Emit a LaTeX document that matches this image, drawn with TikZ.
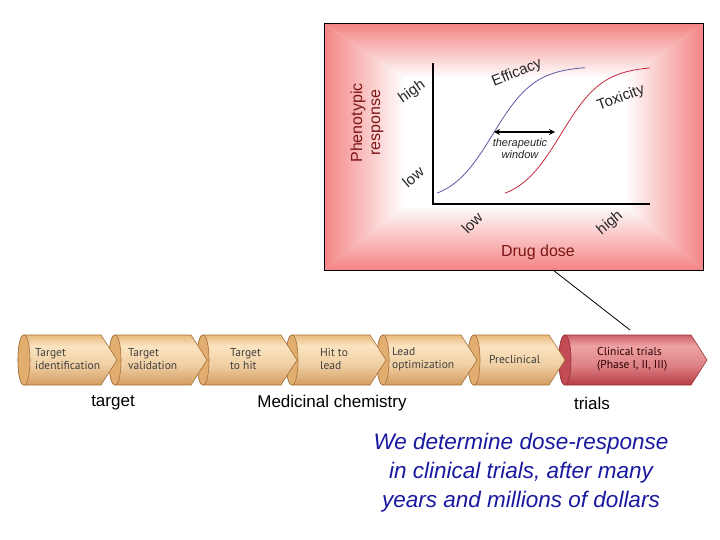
\documentclass[tikz,border=0pt]{standalone}
\usepackage{fontspec}
\setmainfont{Liberation Sans}
\newfontfamily\ptsans{PT Sans}
\usetikzlibrary{arrows.meta}
\definecolor{panelred}{RGB}{244,132,132}
\definecolor{darkred}{RGB}{125,22,22}
\definecolor{effblue}{RGB}{90,90,165}
\definecolor{toxred}{RGB}{200,40,60}
\definecolor{tanTop}{RGB}{232,185,125}
\definecolor{tanMid}{RGB}{251,228,192}
\definecolor{tanBot}{RGB}{212,156,95}
\definecolor{tanFace}{RGB}{226,174,112}
\definecolor{tanLine}{RGB}{165,112,58}
\definecolor{redTop}{RGB}{205,100,105}
\definecolor{redMid}{RGB}{238,162,162}
\definecolor{redBot}{RGB}{185,60,70}
\definecolor{redFace}{RGB}{195,75,85}
\definecolor{redLine}{RGB}{150,50,55}
\definecolor{msgblue}{RGB}{25,25,160}
\pgfdeclareverticalshading{tanshade}{100bp}{color(0bp)=(tanBot); color(25bp)=(tanBot); color(45bp)=(tanMid!70!tanBot); color(64bp)=(tanMid); color(75bp)=(tanTop); color(100bp)=(tanTop)}
\pgfdeclareverticalshading{redshade}{100bp}{color(0bp)=(redBot); color(25bp)=(redBot); color(45bp)=(redMid!70!redBot); color(64bp)=(redMid); color(75bp)=(redTop); color(100bp)=(redTop)}
\tikzset{
  tanbody/.style={shading=tanshade, shade, draw=tanLine, line width=0.6pt},
  tanface/.style={fill=tanFace, draw=tanLine, line width=0.6pt},
  redbody/.style={shading=redshade, shade, draw=redLine, line width=0.6pt},
  redface/.style={fill=redFace, draw=redLine, line width=0.6pt},
  segtext/.style={anchor=west, align=left, text=black!75, font=\ptsans\fontsize{11.5}{13.5}\selectfont, inner sep=0pt},
  axlabel/.style={text=black!85, font=\fontsize{15}{18}\selectfont, inner sep=0pt},
  redlabel/.style={text=darkred, font=\fontsize{16}{18}\selectfont, inner sep=0pt},
  stagelabel/.style={text=black, font=\fontsize{17}{20}\selectfont, inner sep=0pt},
}
\newcommand\pipeseg[4]{%
  \path[#3] (#1,335) -- ({#2-16},335) -- (#2,360) -- ({#2-16},385) -- (#1,385)
     .. controls ({#1-8},385) and ({#1-8},335) .. (#1,335) -- cycle;
  \path[#4] (#1,335) .. controls ({#1-8},335) and ({#1-8},385) .. (#1,385)
     .. controls ({#1+8},385) and ({#1+8},335) .. (#1,335) -- cycle;
}
\begin{document}
\begin{tikzpicture}[x=1pt,y=-1pt]
\useasboundingbox (0,0) rectangle (720,540);
\fill[white] (0,0) rectangle (720,540);
% panel background
\shade[top color=panelred, bottom color=white] (324,24) -- (703,24) -- (625,78) -- (405,78) -- cycle;
\shade[top color=white, bottom color=panelred] (324,270) -- (703,270) -- (625,205) -- (405,205) -- cycle;
\shade[left color=panelred, right color=white] (324,24) -- (405,78) -- (405,205) -- (324,270) -- cycle;
\shade[left color=white, right color=panelred] (703,24) -- (625,78) -- (625,205) -- (703,270) -- cycle;
\fill[white] (405,78) rectangle (625,205);
\draw[black, line width=1pt] (324,24) rectangle (703,270);
% axes
\coordinate (ytop) at (433,63);
\coordinate (orig) at (433,204);
\coordinate (xend) at (650,204);
\draw[black, line width=1.5pt] (ytop) -- (orig) -- (xend);
% curves
\draw[effblue, line width=0.8pt] plot[domain=437:585, samples=80, smooth] (\x, {202-136/(1+exp(-(\x-493)/21))});
\draw[toxred, line width=0.8pt] plot[domain=505:650, samples=80, smooth] (\x, {202-136/(1+exp(-(\x-561)/21))});
% therapeutic window
\coordinate (twL) at (494,132);
\coordinate (twR) at (555,132);
\draw[black, line width=1.6pt, {Stealth[length=6pt,width=6pt]}-{Stealth[length=6pt,width=6pt]}] (twL) -- (twR);
\node[inner sep=0pt, align=center, text=black!85, font=\itshape\fontsize{11}{12}\selectfont] (tw) at (520,149) {therapeutic\\window};
% labels
\node[axlabel, rotate=22] (eff) at (517,73) {Efficacy};
\node[axlabel, rotate=20] (tox) at (621,98) {Toxicity};
\node[axlabel, rotate=35] (yhigh) at (412,92) {high};
\node[axlabel, rotate=40] (ylow) at (413,177) {low};
\node[axlabel, rotate=45] (xlow) at (472,223) {low};
\node[axlabel, rotate=40] (xhigh) at (610,223) {high};
\node[redlabel, rotate=90, align=center] (pheno) at (367,123) {Phenotypic\\response};
\node[redlabel] (dose) at (538,252) {Drug dose};
% pipeline (right to left so earlier chevrons lie on top)
\pipeseg{565}{707}{redbody}{redface}
\pipeseg{474}{565}{tanbody}{tanface}
\pipeseg{383}{477}{tanbody}{tanface}
\pipeseg{292}{386}{tanbody}{tanface}
\pipeseg{203}{297}{tanbody}{tanface}
\pipeseg{115}{207}{tanbody}{tanface}
\pipeseg{24}{117}{tanbody}{tanface}
\node[segtext] (s1) at (35,359) {Target\\identification};
\node[segtext] (s2) at (128,359) {Target\\validation};
\node[segtext] (s3) at (230,359) {Target\\to hit};
\node[segtext] (s4) at (320,359) {Hit to\\lead};
\node[segtext] (s5) at (392,359) {Lead\\optimization};
\node[segtext] (s6) at (489,359) {Preclinical};
\node[segtext, text=black!70!red!60!black] (s7) at (597,359) {Clinical trials\\(Phase I, II, III)};
% connector from panel to clinical trials
\coordinate (pnlA) at (553,270);
\coordinate (pnlB) at (630,330);
\draw[black, line width=0.8pt] (pnlA) -- (pnlB);
% stage labels
\node[stagelabel] (l1) at (113,403) {target};
\node[stagelabel] (l2) at (332,403) {Medicinal chemistry};
\node[stagelabel] (l3) at (592,403) {trials};
% message
\node[align=center, text=msgblue, inner sep=0pt, font=\itshape\fontsize{22.5}{29}\selectfont] (msg) at (521,473)
  {We determine dose-response\\in clinical trials, after many\\years and millions of dollars};
\end{tikzpicture}
\end{document}
